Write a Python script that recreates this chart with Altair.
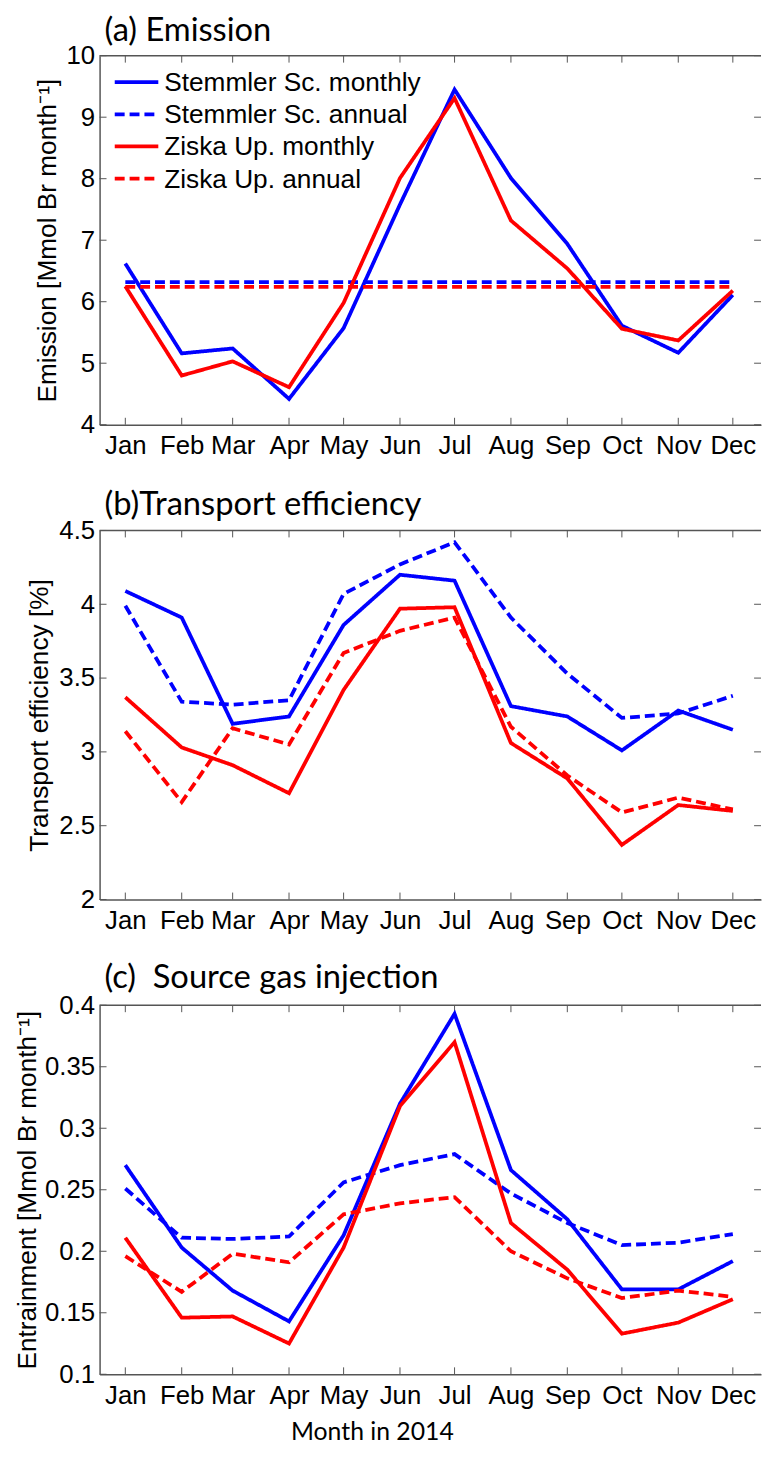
import altair as alt
import pandas as pd

months = ["Jan", "Feb", "Mar", "Apr", "May", "Jun", "Jul", "Aug", "Sep", "Oct", "Nov", "Dec"]
month_days = [31, 28, 31, 30, 31, 30, 31, 31, 30, 31, 30, 31]
series_names = ["Stemmler Sc. monthly", "Stemmler Sc. annual", "Ziska Up. monthly", "Ziska Up. annual"]

# (a) Emission [Mmol Br month-1]
emis_stem_monthly = [6.62, 5.16, 5.24, 4.42, 5.57, 7.58, 9.45, 8.01, 6.94, 5.61, 5.17, 6.11]
emis_stem_annual = [6.32, 6.32, 6.32, 6.32, 6.32, 6.32, 6.32, 6.32, 6.32, 6.32, 6.32, 6.32]
emis_ziska_monthly = [6.25, 4.80, 5.03, 4.61, 5.98, 8.01, 9.31, 7.32, 6.54, 5.56, 5.37, 6.18]
emis_ziska_annual = [6.24, 6.24, 6.24, 6.24, 6.24, 6.24, 6.24, 6.24, 6.24, 6.24, 6.24, 6.24]

# (b) Transport efficiency [%]
te_stem_monthly = [4.09, 3.91, 3.19, 3.24, 3.86, 4.20, 4.16, 3.31, 3.24, 3.01, 3.28, 3.15]
te_stem_annual = [3.99, 3.34, 3.32, 3.35, 4.07, 4.27, 4.42, 3.91, 3.53, 3.23, 3.26, 3.38]
te_ziska_monthly = [3.37, 3.03, 2.91, 2.72, 3.42, 3.97, 3.98, 3.06, 2.82, 2.37, 2.64, 2.60]
te_ziska_annual = [3.14, 2.66, 3.16, 3.05, 3.67, 3.82, 3.91, 3.17, 2.84, 2.59, 2.69, 2.61]

# (c) Source gas injection / Entrainment
sgi_stem_monthly = [0.270, 0.203, 0.168, 0.143, 0.213, 0.320, 0.393, 0.266, 0.226, 0.169, 0.169, 0.192]
sgi_stem_annual = [0.251, 0.211, 0.210, 0.212, 0.256, 0.270, 0.279, 0.247, 0.223, 0.205, 0.207, 0.214]
sgi_ziska_monthly = [0.211, 0.146, 0.147, 0.125, 0.203, 0.318, 0.370, 0.223, 0.185, 0.133, 0.142, 0.161]
sgi_ziska_annual = [0.196, 0.167, 0.198, 0.191, 0.230, 0.239, 0.244, 0.200, 0.178, 0.162, 0.168, 0.163]

yticks_a = [4, 5, 6, 7, 8, 9, 10]
yticks_b = [2, 2.5, 3, 3.5, 4, 4.5]
yticks_c = [0.1, 0.15, 0.2, 0.25, 0.3, 0.35, 0.4]

# day of year at the start of each month
doy = []
acc = 0
for d in month_days:
    doy.append(acc)
    acc += d

PX_PER_DAY = 1.837
W = 668.0
H = 372.7
XMIN = -14.15
XDOM = [XMIN, XMIN + W / PX_PER_DAY]
AXC = "#555555"
LABEL_FONT = "Liberation Sans"
TITLE_FONT = "Lato"
colors = ["#0000ff", "#0000ff", "#ff0000", "#ff0000"]
dashes = [[1, 0], [10, 5], [1, 0], [10, 5]]
LW = 3.8

label_expr = "[" + ",".join("'%s'" % m for m in months) + "][indexof([" + ",".join(str(v) for v in doy) + "], datum.value)]"


def long_df(series_lists):
    rows = []
    for name, vals in zip(series_names, series_lists):
        for i, v in enumerate(vals):
            rows.append({"doy": doy[i], "value": v, "series": name})
    return pd.DataFrame(rows)


def legend_layers():
    layers = []
    one = pd.DataFrame({"k": [0]})
    for i, name in enumerate(series_names):
        yy = 26.7 + 32.5 * i
        layers.append(alt.Chart(one).mark_rule(strokeWidth=LW, strokeDash=dashes[i], color=colors[i]).encode(
            x=alt.value(15.3), x2=alt.value(59.3), y=alt.value(yy)))
        layers.append(alt.Chart(one).mark_text(align="left", baseline="middle", font=LABEL_FONT,
                                               fontSize=26.5, color="black").encode(
            x=alt.value(65.3), y=alt.value(yy + 1), text=alt.value(name)))
    return layers


def panel(series_lists, ydom, yticks, ytitle, title, title_offset, title_pad,
          legend=False, xtitle=None):
    xscale = alt.Scale(domain=XDOM, nice=False, zero=False)
    yscale = alt.Scale(domain=ydom, nice=False, zero=False)
    cscale = alt.Scale(domain=series_names, range=colors)
    dscale = alt.Scale(domain=series_names, range=dashes)
    xaxis_kw = dict(values=doy, labelExpr=label_expr, ticks=False, tickSize=0,
                    labelPadding=8.5, grid=False)
    if xtitle:
        xaxis_kw.update(titleFont=TITLE_FONT, titleFontSize=25, titleX=275,
                        titleY=58, titleBaseline="middle", titleAnchor="start",
                        titleAlign="center")
    xaxis = alt.Axis(**xaxis_kw)
    yaxis = alt.Axis(values=yticks, format="~r", ticks=False, tickSize=0,
                     labelPadding=5, titlePadding=title_pad, grid=False)
    xenc = alt.X("doy:Q", scale=xscale, axis=xaxis, title=xtitle)
    yenc = alt.Y("value:Q", scale=yscale, axis=yaxis, title=ytitle)
    df = long_df(series_lists)
    lines = alt.Chart(df).mark_line(strokeWidth=LW, clip=True).encode(
        x=xenc, y=yenc,
        color=alt.Color("series:N", scale=cscale, legend=None, sort=series_names),
        strokeDash=alt.StrokeDash("series:N", scale=dscale, legend=None, sort=series_names),
    )
    xt = pd.DataFrame({"doy": doy})
    yt = pd.DataFrame({"value": yticks})
    one = pd.DataFrame({"k": [0]})
    rule = dict(color=AXC, strokeWidth=1)
    bottom_ticks = alt.Chart(xt).mark_rule(**rule).encode(x=xenc, y=alt.value(H), y2=alt.value(H - 7))
    top_ticks = alt.Chart(xt).mark_rule(**rule).encode(x=xenc, y=alt.value(0), y2=alt.value(7))
    left_ticks = alt.Chart(yt).mark_rule(**rule).encode(y=yenc, x=alt.value(0), x2=alt.value(7))
    right_ticks = alt.Chart(yt).mark_rule(**rule).encode(y=yenc, x=alt.value(W - 7), x2=alt.value(W))
    top_line = alt.Chart(one).mark_rule(color=AXC, strokeWidth=1.5).encode(
        y=alt.value(0), x=alt.value(0), x2=alt.value(W))
    layers = [top_line, top_ticks, bottom_ticks, left_ticks, right_ticks, lines]
    if legend:
        layers += legend_layers()
    return alt.layer(*layers).properties(
        width=W, height=H,
        title=alt.TitleParams(text=title, anchor="start", frame="group", font=TITLE_FONT,
                              fontSize=33, fontWeight="normal", color="black",
                              offset=title_offset, dx=5),
    )


pa = panel([emis_stem_monthly, emis_stem_annual, emis_ziska_monthly, emis_ziska_annual],
           [4, 10], yticks_a, "Emission [Mmol Br month\u207b\u00b9]", "(a) Emission", -5.5, 4.5,
           legend=True)
pb = panel([te_stem_monthly, te_stem_annual, te_ziska_monthly, te_ziska_annual],
           [2, 4.5], yticks_b, "Transport efficiency [%]", "(b)Transport efficiency", -4.5, 5)
pc = panel([sgi_stem_monthly, sgi_stem_annual, sgi_ziska_monthly, sgi_ziska_annual],
           [0.1, 0.4], yticks_c, "Entrainment [Mmol Br month\u207b\u00b9]",
           "(c)\u00a0 Source gas injection", -2.5, 3.5, xtitle="Month in 2014")

chart = alt.vconcat(pa, pb, pc, spacing=106.5, bounds="flush").resolve_scale(
    color="independent", strokeDash="independent", x="independent", y="independent"
).properties(
    padding={"left": 5.5, "top": 0, "right": 0, "bottom": -3},
    background="white",
).configure_view(strokeOpacity=0).configure_axis(
    labelFont=LABEL_FONT, labelFontSize=26, labelColor="black",
    titleFont=LABEL_FONT, titleFontSize=26.5, titleFontWeight="normal", titleColor="black",
    domainColor=AXC, domainWidth=1.5,
)

chart.save("out.html", embed_options={"renderer": "svg", "actions": False})
